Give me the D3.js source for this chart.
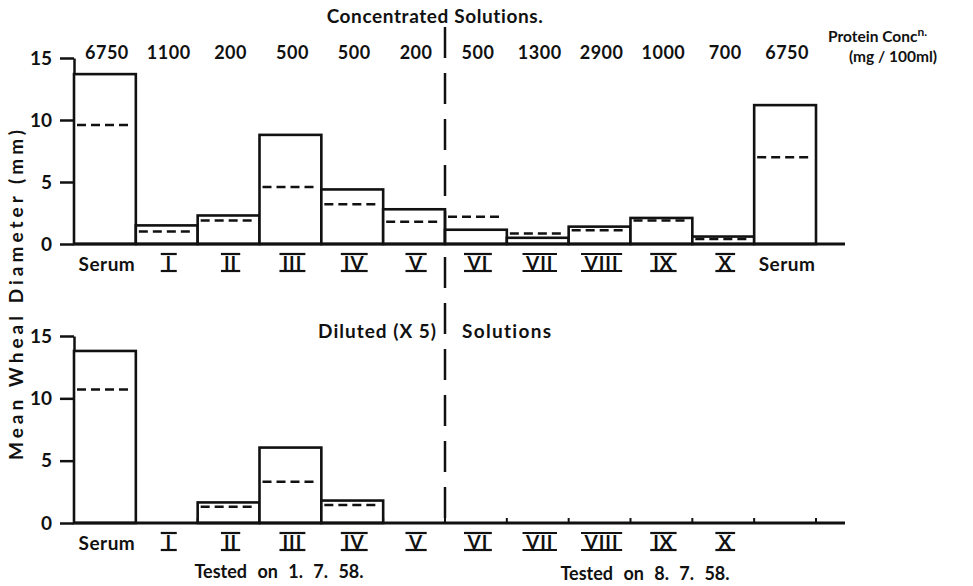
<!DOCTYPE html>
<html><head><meta charset="utf-8">
<script src="https://cdn.jsdelivr.net/npm/d3@7"></script>
<style>
body{margin:0;background:#fff;}
text{font-family:Lato,"DejaVu Sans",sans-serif;font-weight:700;fill:#111;}
</style></head>
<body><svg id="c" width="973" height="586"></svg>
<script>
const categories = ["Serum","I","II","III","IV","V","VI","VII","VIII","IX","X","Serum"];
const bottomCategories = ["Serum","I","II","III","IV","V","VI","VII","VIII","IX","X",""];
const proteinConc = ["6750","1100","200","500","500","200","500","1300","2900","1000","700","6750"];
const concSolid  = [13.7,1.5,2.3,8.8,4.4,2.8,1.15,0.5,1.4,2.1,0.6,11.2];
const concDashed = [9.6,1.0,1.9,4.6,3.2,1.8,2.2,0.85,1.1,1.9,0.4,7.0];
const dilSolid   = [13.8,0,1.65,6.05,1.8,0,0,0,0,0,0,null];
const dilDashed  = [10.7,null,1.3,3.3,1.45,null,null,null,null,null,null,null];
const yTicks = [0,5,10,15];

const svg = d3.select("#c");
const x = d3.scaleBand().domain(d3.range(categories.length)).range([74,816]).paddingInner(0).paddingOuter(0);
const axisEnd = 845;
const yTop = d3.scaleLinear().domain([0,15]).range([244,58]);
const yBot = d3.scaleLinear().domain([0,15]).range([523,336]);

function panel(y, solid, dashed, labels, withTicks){
  const g = svg.append("g");
  const ax = g.append("g").attr("transform","translate(74,0)")
    .call(d3.axisLeft(y).tickValues(yTicks).tickSize(14).tickSizeOuter(0).tickPadding(8).tickFormat(d3.format("d")));
  ax.select(".domain").attr("stroke","#111").attr("stroke-width",2.5);
  ax.selectAll(".tick line").attr("stroke","#111").attr("stroke-width",2.5);
  ax.selectAll(".tick text").style("font-size","19px").style("font-family","Lato,sans-serif").style("font-weight","700").attr("fill","#111");
  if(withTicks){
    g.selectAll("line.bt").data(d3.range(1,categories.length+1)).enter().append("line")
      .attr("x1",i=>x.range()[0]+i*x.step()).attr("x2",i=>x.range()[0]+i*x.step())
      .attr("y1",y(0)).attr("y2",y(0)-5).attr("stroke","#111").attr("stroke-width",2);
  }
  const idx = d3.range(categories.length).filter(i=>solid[i]!=null && solid[i]>0);
  g.selectAll("rect").data(idx).enter().append("rect")
    .attr("x",i=>x(i)).attr("width",x.bandwidth())
    .attr("y",i=>y(solid[i])).attr("height",i=>y(0)-y(solid[i]))
    .attr("fill","#fff").attr("stroke","#111").attr("stroke-width",2.6);
  const didx = d3.range(categories.length).filter(i=>dashed[i]!=null);
  g.selectAll("line.dash").data(didx).enter().append("line")
    .attr("x1",i=>x(i)+3).attr("x2",i=>x(i)+x.bandwidth()-4)
    .attr("y1",i=>y(dashed[i])).attr("y2",i=>y(dashed[i]))
    .attr("stroke","#111").attr("stroke-width",2.5).attr("stroke-dasharray","9,5");
  g.append("line").attr("x1",x.range()[0]).attr("x2",axisEnd).attr("y1",y(0)).attr("y2",y(0))
    .attr("stroke","#111").attr("stroke-width",3);
  labels.forEach((c,i)=>{
    if(!c) return;
    const cx = x(i)+x.bandwidth()/2+2;
    const t = g.append("text").attr("x",cx).attr("text-anchor","middle").text(c);
    if(c==="Serum"){
      t.attr("y",y(0)+27).style("font-size","19px").style("letter-spacing","0.5px");
    } else {
      t.attr("y",y(0)+26).style("font-size","19px").style("font-weight","700").style("letter-spacing","1px");
      const bb = t.node().getBBox();
      const w = Math.max(bb.width+6,16);
      [y(0)+10,y(0)+27].forEach(yy=>{
        g.append("line").attr("x1",cx-w/2).attr("x2",cx+w/2).attr("y1",yy).attr("y2",yy)
          .attr("stroke","#111").attr("stroke-width",2.2);
      });
    }
  });
  return g;
}

panel(yTop, concSolid, concDashed, categories, false);
panel(yBot, dilSolid, dilDashed, bottomCategories, true);

svg.selectAll("text.pc").data(proteinConc).enter().append("text")
  .attr("x",(d,i)=>x(i)+x.bandwidth()/2+2).attr("y",59)
  .attr("text-anchor","middle").style("font-size","18px").style("letter-spacing","0.5px").text(d=>d);

const pt = svg.append("text").attr("x",828).attr("y",42).style("font-size","15.5px");
pt.append("tspan").text("Protein Conc");
pt.append("tspan").attr("dy",-6).style("font-size","12px").text("n.");
svg.append("text").attr("x",893).attr("y",62).attr("text-anchor","middle").style("font-size","15.5px").text("(mg / 100ml)");

svg.append("text").attr("x",435).attr("y",23).attr("text-anchor","middle").style("font-size","19px").style("letter-spacing","0.6px").text("Concentrated  Solutions.");
svg.append("text").attr("x",437).attr("y",338).attr("text-anchor","end").style("font-size","19px").style("letter-spacing","1px").text("Diluted (X 5)");
svg.append("text").attr("x",462).attr("y",338).attr("text-anchor","start").style("font-size","19px").style("letter-spacing","1.3px").text("Solutions");
svg.append("text").attr("x",279).attr("y",578).attr("text-anchor","middle").style("font-size","18px").style("word-spacing","6px").text("Tested on 1. 7. 58.");
svg.append("text").attr("x",645).attr("y",580).attr("text-anchor","middle").style("font-size","18px").style("word-spacing","6px").text("Tested on 8. 7. 58.");

svg.append("text").attr("transform","translate(23,295) rotate(-90)").attr("text-anchor","middle")
  .attr("textLength",330).attr("lengthAdjust","spacing")
  .style("font-size","19px").text("Mean  Wheal  Diameter  (mm)");

const divX = x(6);
svg.append("line").attr("x1",divX).attr("x2",divX).attr("y1",27).attr("y2",523)
  .attr("stroke","#111").attr("stroke-width",2.5).attr("stroke-dasharray","31,15");
</script></body></html>
